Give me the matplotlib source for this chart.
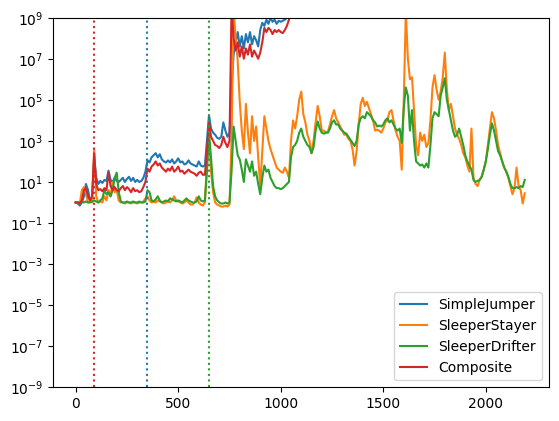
import numpy as np
import matplotlib
matplotlib.use("Agg")
import matplotlib.pyplot as plt

# x positions (steps), sampled every 10
steps = np.arange(0, 2200, 10)

# values, given as log10(value)
simple_jumper_log = [
    0.0, -0.05, -0.15, 0.0, 0.3, 0.9, 0.6, 0.1, 0.2, 2.2,
    1.2, 0.9, 1.05, 0.95, 1.1, 1.05, 1.55, 1.1, 1.0, 1.2,
    1.05, 1.0, 1.1, 1.2, 1.0, 1.15, 1.25, 1.05, 1.2, 1.0,
    1.1, 1.0, 1.05, 1.2, 1.5, 2.05, 1.95, 2.2, 2.3, 2.4,
    2.2, 2.35, 2.1, 2.0, 1.95, 2.05, 1.95, 2.1, 1.9, 2.0,
    2.15, 1.95, 2.0, 1.85, 1.9, 2.05, 1.9, 1.85, 1.8, 1.75,
    2.0, 1.8, 1.75, 1.8, 3.0, 4.25, 3.6, 3.4, 3.3, 3.15,
    3.1, 3.2, 3.9, 3.5, 3.2, 3.4, 5.5, 7.2, 7.8, 8.3,
    7.6, 8.1, 7.5, 8.2, 7.8, 8.3, 7.7, 8.1, 7.9, 7.6,
    8.4, 8.75, 8.6, 8.9, 8.7, 9.0, 8.8, 8.9, 8.7, 8.85,
    8.8, 8.85, 8.9, 9.0, 9.5,
]
sleeper_stayer_log = [
    0.0, 0.0, -0.05, 0.6, 0.75, 0.4, 0.0, 0.05, 0.0, 2.6,
    0.3, 0.0, 0.05, 0.0, 0.3, 0.1, 0.6, 0.3, 1.0, 0.5,
    0.6, 0.1, 0.0, 0.0, -0.05, 0.0, 0.0, -0.05, 0.0, 0.0,
    -0.05, 0.0, 0.0, 0.05, 0.2, 0.3, 0.1, 0.0, 0.05, 0.0,
    0.1, 0.05, 0.0, -0.05, 0.0, 0.05, 0.0, 0.1, 0.3, 0.1,
    0.05, 0.0, -0.05, 0.0, 0.1, 0.0, -0.1, -0.1, 0.0, 0.25,
    0.0, -0.1, -0.15, 0.0, 2.0, 3.2, 1.5, 0.5, 0.0, -0.1,
    -0.15, -0.2, -0.2, -0.15, -0.2, -0.1, 3.0, 9.5, 8.0, 6.9,
    4.9, 3.5, 2.6, 4.8, 3.4, 2.4, 4.2, 3.0, 3.7, 2.2,
    0.8, 2.5, 4.2, 3.6, 3.0, 2.6, 2.3, 2.0, 1.7, 1.6,
    1.5, 1.45, 1.7, 1.5, 1.2, 3.0, 4.0, 3.6, 4.2, 5.0,
    5.4, 4.3, 3.9, 3.3, 3.0, 2.4, 3.0, 3.9, 4.7, 4.2,
    3.5, 3.5, 3.4, 3.45, 3.8, 4.2, 4.5, 4.1, 3.9, 3.7,
    3.5, 3.3, 3.3, 3.1, 3.0, 2.6, 1.8, 2.5, 3.8, 4.8,
    5.1, 4.7, 4.9, 4.6, 4.3, 4.0, 3.5, 3.55, 3.5, 3.4,
    3.6, 3.9, 4.0, 4.4, 4.5, 4.0, 3.5, 3.2, 3.0, 1.6,
    5.0, 9.3, 7.0, 6.0, 6.1, 4.5, 2.8, 2.3, 3.4, 3.0,
    3.3, 2.7, 2.9, 4.0, 5.6, 6.2, 5.5, 5.0, 5.4, 6.1,
    7.3, 5.5, 4.5, 4.8, 4.2, 3.6, 3.3, 3.1, 2.8, 2.4,
    2.2, 1.8, 1.5, 3.6, 1.2, 0.9, 0.8, 1.1, 1.25, 1.6,
    2.0, 2.8, 3.6, 4.4, 4.1, 3.5, 2.8, 2.4, 2.0, 1.7,
    1.5, 1.2, 0.8, 0.4, 0.7, 1.7, 0.8, 0.6, -0.05, 0.45,
]
sleeper_drifter_log = [
    0.0, 0.0, 0.0, 0.05, 0.0, 0.05, 0.0, 0.0, 0.05, 0.1,
    0.05, 0.0, 0.1, 0.2, 0.6, 0.4, 0.5, 0.3, 0.6, 1.2,
    1.45, 0.5, 0.05, 0.0, 0.0, 0.05, 0.0, 0.0, 0.05, 0.0,
    0.0, 0.05, 0.0, 0.0, 0.05, 0.6, 0.5, 0.1, 0.05, 0.15,
    0.3, 0.1, 0.0, 0.05, 0.1, 0.05, 0.2, 0.15, 0.1, 0.05,
    0.1, 0.05, 0.0, 0.1, 0.2, 0.1, 0.05, 0.0, 0.0, 0.05,
    0.3, 0.1, 0.05, 0.1, 1.5, 3.4, 2.2, 0.8, 0.3, 0.1,
    0.0, -0.05, -0.05, 0.0, -0.05, 0.0, 1.5, 3.7, 3.0, 2.3,
    2.1, 1.6, 1.0, 2.1, 1.8, 1.5, 2.0, 1.3, 1.5, 0.9,
    0.4, 1.2, 1.8, 1.5, 1.6, 1.2, 1.0, 0.8, 0.7, 0.7,
    0.65, 0.7, 0.8, 0.9, 1.0, 2.2, 2.7, 2.8, 3.0, 3.4,
    3.6, 3.2, 3.0, 2.8, 2.7, 2.4, 2.7, 3.5, 3.95, 3.6,
    3.4, 3.35, 3.4, 3.4, 3.6, 3.9, 4.0, 3.8, 3.8, 3.6,
    3.5, 3.4, 3.35, 3.2, 3.05, 2.9, 2.75, 3.0, 3.8, 4.1,
    4.2, 4.1, 4.4, 4.3, 4.2, 4.0, 3.9, 3.7, 3.75, 3.7,
    3.8, 4.0, 4.1, 3.9, 4.0, 3.8, 3.6, 3.5, 3.6, 2.9,
    4.6, 5.6, 5.2, 3.5, 4.5, 3.0, 2.0, 1.9, 1.8, 1.85,
    1.7, 1.9, 1.7, 2.8, 4.1, 4.4, 4.3, 4.2, 5.2, 5.6,
    6.05, 5.0, 4.5, 4.0, 3.5, 3.2, 3.3, 3.6, 3.2, 2.8,
    2.3, 2.0, 1.8, 1.6, 1.1, 1.0, 1.05, 1.1, 1.25, 1.6,
    2.0, 2.6, 3.3, 3.85, 3.5, 3.0, 2.5, 2.3, 2.0, 1.7,
    1.5, 1.25, 0.9, 0.7, 0.7, 0.75, 0.7, 0.8, 0.75, 1.1,
]
composite_log = [
    0.0, 0.0, -0.05, 0.1, 0.6, 0.7, 0.3, 0.1, 0.3, 2.4,
    0.9, 0.6, 0.65, 0.55, 0.7, 0.6, 1.45, 0.8, 0.6, 0.75,
    0.6, 0.55, 0.7, 0.8, 0.6, 0.75, 0.65, 0.5, 0.7, 0.55,
    0.6, 0.5, 0.55, 0.75, 1.0, 1.65, 1.5, 1.75, 1.85, 2.0,
    1.8, 1.9, 1.7, 1.6, 1.5, 1.65, 1.55, 1.75, 1.5, 1.6,
    1.75, 1.5, 1.55, 1.4, 1.5, 1.6, 1.5, 1.45, 1.4, 1.3,
    1.45, 1.5, 1.35, 1.35, 2.5, 3.9, 3.2, 3.0, 2.8, 2.75,
    2.65, 2.8, 3.2, 2.9, 2.7, 3.0, 9.5, 8.0, 7.4, 7.8,
    7.1, 7.6, 7.0, 7.5, 7.2, 7.7, 7.1, 7.4, 7.2, 7.0,
    7.3, 7.8, 8.5, 8.3, 8.5, 8.4, 8.2, 8.4, 8.3, 8.4,
    8.3, 8.25, 8.4, 8.6, 8.9, 9.5,
]

series = [
    ("SimpleJumper", simple_jumper_log),
    ("SleeperStayer", sleeper_stayer_log),
    ("SleeperDrifter", sleeper_drifter_log),
    ("Composite", composite_log),
]

# change points marked with dotted lines
markers = [(90, "C3"), (350, "C0"), (650, "C2")]

fig, ax = plt.subplots()
for name, vals in series:
    ax.plot(steps[:len(vals)], 10.0 ** np.array(vals), label=name)

for xv, col in markers:
    ax.axvline(xv, color=col, linestyle=":")

ax.set_yscale("log")
ax.set_ylim(1e-9, 1e9)
ax.set_xlim(-110, 2309)
ax.legend(loc="lower right")

plt.savefig("out.png", bbox_inches="tight")
